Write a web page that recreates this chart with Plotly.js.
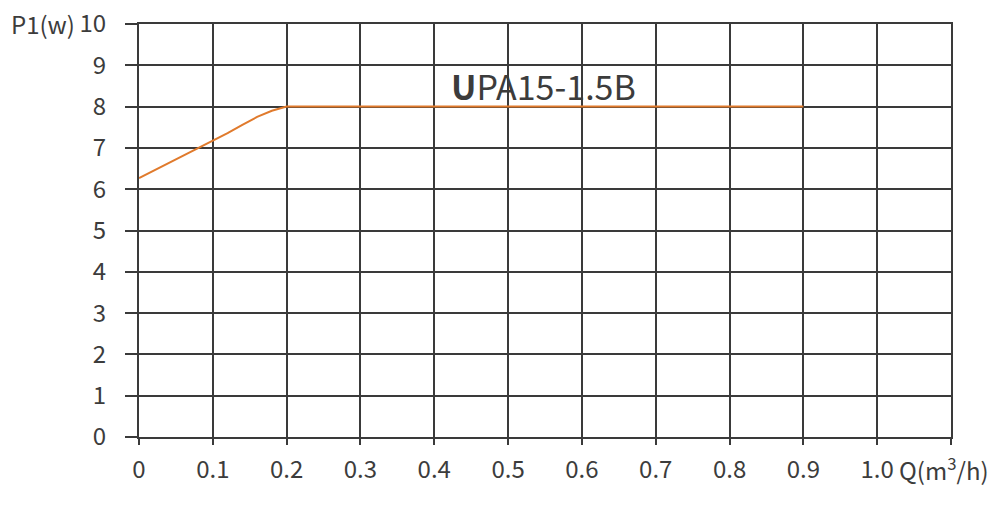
<!DOCTYPE html>
<html><head><meta charset="utf-8">
<script src="https://cdn.plot.ly/plotly-3.0.1.min.js"></script>
<style>html,body{margin:0;padding:0;background:#fff}#c{width:1000px;height:507px}</style>
</head><body><div id="c"></div>
<script>
const flowQ = [0, 0.05, 0.1, 0.12, 0.14, 0.16, 0.18, 0.2, 0.9];
const powerP1 = [6.27, 6.72, 7.17, 7.36, 7.56, 7.75, 7.9, 8.0, 8.0];
const xTickVals = [0, 0.1, 0.2, 0.3, 0.4, 0.5, 0.6, 0.7, 0.8, 0.9, 1.0, 1.1];
const xTickText = ['0', '0.1', '0.2', '0.3', '0.4', '0.5', '0.6', '0.7', '0.8', '0.9', '1.0', ''];
const yTickVals = [0, 1, 2, 3, 4, 5, 6, 7, 8, 9, 10];
const yTickText = ['0', '1', '2', '3', '4', '5', '6', '7', '8', '9', '10'];
const seriesName = 'UPA15-1.5B';

const gridC = '#3a3a3a';
const fontF = '"Noto Sans CJK SC", "Noto Sans", sans-serif';
const txtC = '#3c3c3c';
const fs = 24;

Plotly.newPlot('c', [{
  x: flowQ, y: powerP1, type: 'scatter', mode: 'lines',
  line: {color: '#E07A2C', width: 2, shape: 'linear'},
  name: seriesName, showlegend: false, hoverinfo: 'skip'
}], {
  width: 1000, height: 507,
  margin: {l: 139, r: 49, t: 24, b: 70},
  paper_bgcolor: '#fff', plot_bgcolor: '#fff',
  font: {family: fontF, color: txtC, size: fs},
  xaxis: {
    range: [0, 1.1], tickmode: 'array', tickvals: xTickVals, ticktext: xTickText,
    showgrid: true, gridcolor: gridC, gridwidth: 2, zeroline: false,
    showline: true, linecolor: gridC, linewidth: 2, mirror: true,
    ticks: 'outside', ticklen: 6, tickwidth: 2, tickcolor: gridC,
    ticklabelstandoff: 4,
    tickfont: {family: fontF, size: fs, color: txtC}, fixedrange: true
  },
  yaxis: {
    range: [0, 10], tickmode: 'array', tickvals: yTickVals, ticktext: yTickText,
    showgrid: true, gridcolor: gridC, gridwidth: 2, zeroline: false,
    showline: true, linecolor: gridC, linewidth: 2, mirror: true,
    ticks: 'outside', ticklen: 12, tickwidth: 2, tickcolor: gridC,
    ticklabelstandoff: 14,
    tickfont: {family: fontF, size: fs, color: txtC}, fixedrange: true
  },
  annotations: [
    {text: '<b>U</b>PA15-1.5B', xref: 'x', yref: 'y', x: 0.548, y: 8.5, showarrow: false,
     xanchor: 'center', yanchor: 'middle', font: {family: fontF, size: 34, color: txtC}},
    {text: 'P1(w)', xref: 'paper', yref: 'y', x: -0.076, y: 10, yshift: 1, showarrow: false,
     xanchor: 'right', yanchor: 'middle', font: {family: fontF, size: fs, color: txtC}},
    {text: 'Q(m<sup>3</sup>/h)', xref: 'paper', yref: 'paper', x: 1.0, xshift: -54, y: 0, yshift: -32, showarrow: false,
     xanchor: 'left', yanchor: 'middle', font: {family: fontF, size: fs, color: txtC}}
  ]
}, {displayModeBar: false, staticPlot: true});
</script></body></html>
